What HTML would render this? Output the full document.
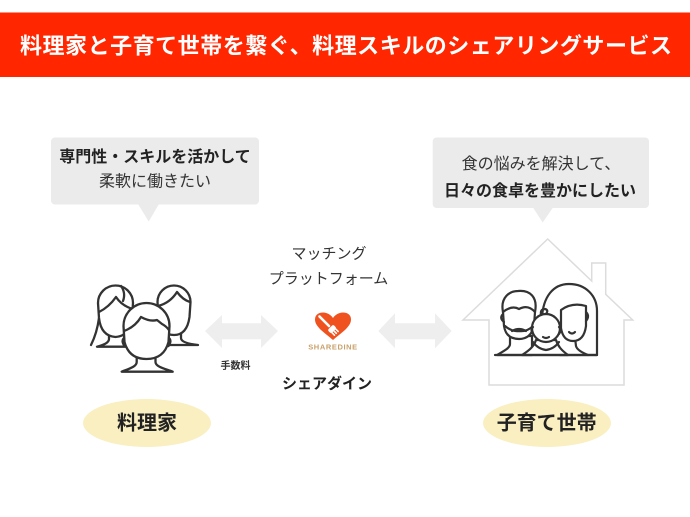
<!DOCTYPE html>
<html>
<head>
<meta charset="utf-8">
<style>
  html,body{margin:0;padding:0;background:#fff;}
  body{width:690px;height:517px;overflow:hidden;}
  svg{display:block;}
  .jp{font-family:"Liberation Sans","Noto Sans CJK JP",sans-serif;}
</style>
</head>
<body>
<svg width="690" height="517" viewBox="0 0 690 517" xmlns="http://www.w3.org/2000/svg">
  <rect x="0" y="0" width="690" height="517" fill="#ffffff"/>

  <!-- Title bar -->
  <rect x="0" y="12.5" width="690" height="64.5" fill="#ff2600"/>
  <text class="jp" x="20" y="53.5" font-size="22" font-weight="bold" fill="#ffffff" textLength="652" lengthAdjust="spacing">料理家と子育て世帯を繋ぐ、料理スキルのシェアリングサービス</text>

  <!-- Left bubble -->
  <rect x="51" y="137.5" width="208" height="67" rx="4" fill="#ebebeb"/>
  <polygon points="138,204 159,204 148.7,221.5" fill="#ebebeb"/>
  <text class="jp" x="155" y="162" font-size="16" font-weight="bold" fill="#222" text-anchor="middle">専門性・スキルを活かして</text>
  <text class="jp" x="155" y="186.5" font-size="16" fill="#333" text-anchor="middle">柔軟に働きたい</text>

  <!-- Right bubble -->
  <rect x="432.7" y="137.5" width="216.3" height="70.5" rx="4" fill="#ebebeb"/>
  <polygon points="533,207.5 553,207.5 542.7,222.5" fill="#ebebeb"/>
  <text class="jp" x="541" y="169" font-size="16" fill="#333" text-anchor="middle">食の悩みを解決して、</text>
  <text class="jp" x="540" y="196" font-size="16" font-weight="bold" fill="#222" text-anchor="middle">日々の食卓を豊かにしたい</text>

  <!-- Center labels -->
  <text class="jp" x="329" y="258.5" font-size="15" fill="#333" text-anchor="middle">マッチング</text>
  <text class="jp" x="328.5" y="283.5" font-size="15" fill="#333" text-anchor="middle">プラットフォーム</text>
  <text class="jp" x="327" y="388.5" font-size="15" font-weight="bold" fill="#222" text-anchor="middle">シェアダイン</text>
  <text class="jp" x="235.5" y="369" font-size="10" font-weight="bold" fill="#333" text-anchor="middle">手数料</text>

  <!-- Arrows -->
  <polygon points="205,331 222,315 222,323.3 261,323.3 261,315 278,331 261,348 261,339.3 222,339.3 222,348" fill="#eeeeee"/>
  <polygon points="378.3,331 395,313.3 395,323.3 435,323.3 435,313.3 451.7,331 435,348.3 435,339.3 395,339.3 395,348.3" fill="#eeeeee"/>

  <!-- Logo -->
  <path d="M333,340 C325,333 315,327 315,319.5 C315,314.5 319,312.5 323,312.5 C327.5,312.5 331,315 333,318 C335,315 338.5,312.5 343,312.5 C347,312.5 351,314.5 351,319.5 C351,327 341,333 333,340 Z" fill="#f0521f"/>
  <line x1="319.5" y1="316.5" x2="329" y2="326" stroke="#fff" stroke-width="2.6" stroke-linecap="round"/>
  <g transform="translate(331,328) rotate(-45)" fill="none" stroke="#fff" stroke-linecap="round">
    <rect x="-4" y="-1" width="8" height="5" rx="2" fill="#fff" stroke="none"/>
    <line x1="-2.6" y1="3" x2="-2.6" y2="7.5" stroke-width="1.6"/>
    <line x1="0" y1="3" x2="0" y2="7.5" stroke-width="1.6"/>
    <line x1="2.6" y1="3" x2="2.6" y2="7.5" stroke-width="1.6"/>
  </g>
  <text x="333" y="349.5" font-family="Liberation Sans, sans-serif" font-size="7.5" font-weight="bold" fill="#c9a06a" text-anchor="middle" letter-spacing="0.6">SHAREDINE</text>

  <!-- Left people icon -->
  <g fill="#fff" stroke="#333" stroke-width="2.3" stroke-linejoin="round" stroke-linecap="round">
    <!-- back left woman -->
    <path d="M99,318 Q97,333 91,345"/>
    <path d="M109,333 L109,339 C109,343 103,345 97,346.7 L135,346.7 L135,333 Z"/>
    <path d="M98,303 A17.5,17.5 0 0 1 133,303 L132,318 Q130,336 115.5,337 Q101,336 99,318 Z"/>
    <path d="M99,312 Q109,307 116,297 Q122,306 133,309" fill="none"/>
    <path d="M121,286 Q126,293 123,301" fill="none"/>
    <!-- back right -->
    <path d="M168,332 L168,338 C168,342 160,344 150,345 L198,345 C189,344 181,342 181,338 L181,332 Z"/>
    <path d="M157.5,302 A16.5,16.5 0 0 1 190.5,302 L189.5,317 Q187,335 174,335 Q161,335 158.5,317 Z"/>
    <path d="M158,306 Q170,303 177,292 Q183,300 190,302" fill="none"/>
    <!-- front person -->
    <path d="M136.7,354 L136.7,362 C136.7,367 128,369 121.7,371.7 L172.7,371.7 C166,369 155.5,367 155.5,362 L155.5,354 Z"/>
    <path d="M123.5,326 A23,23 0 0 1 169.5,326 L168.5,342 Q164,359 146.5,359 Q129,359 124.5,342 Z"/>
    <path d="M124,331 Q135,327 141,317 Q150,322 157,320 L162,324 Q166,326 169,330" fill="none"/>
    <path d="M124,338 Q121,341 124.5,346" fill="none"/>
    <path d="M169,338 Q172,341 168.5,346" fill="none"/>
  </g>

  <!-- House -->
  <path d="M489,385 L489,320 L463,320 L547.7,239 L591.7,281 L591.7,263 L605.7,263 L605.7,294.3 L632.7,320 L624,320 L624,385 Z" fill="#fff" stroke="#dcdcdc" stroke-width="1.5" stroke-linejoin="miter"/>

  <!-- Family -->
  <g fill="#fff" stroke="#333" stroke-width="2.2" stroke-linejoin="round" stroke-linecap="round">
    <!-- mother hair -->
    <path d="M542,318 C543,297 553,284 569,284 C586,284 597,296 597,311 L597,355 L560,355 Z"/>
    <!-- mother neck -->
    <path d="M575,338 L576,346 C577,350 583,353 588,355" fill="none"/>
    <!-- mother face -->
    <path d="M561,310 Q572,302 586,306 L586,326 Q584,341 573,341 Q563,341 561,328 Z"/>
    <path d="M586,312 Q590,316 586,321" fill="none"/>
    <path d="M569,332 Q572,335 575,332" fill="none"/>
    <!-- father body -->
    <path d="M510,336 L510,344 C510,348 504,351 497,355 L532,355 L532,336 Z"/>
    <!-- father head -->
    <path d="M503,312 C500,297 510,291 518,291 C530,290 538,297 535,312 L534,326 Q531,339 519,339 Q506,339 504,326 Z"/>
    <path d="M503,312 Q512,305 519,309 Q528,304 535,312" fill="none"/>
    <path d="M503,314 Q499,318 504,322" fill="none"/>
    <path d="M512,331 Q519,327 526,331" fill="none"/>
    <path d="M505,326 Q512,332 519,331 Q527,332 533,326" fill="none"/>
    <!-- baby -->
    <path d="M536,340 C534,346 530,350 522,355 L568,355 C561,350 558,346 556,340 Z"/>
    <circle cx="546" cy="328" r="14"/>
    <path d="M541,315 Q540,309 545,309 Q549,310 546,314" fill="none"/>
    <path d="M533,327 Q530,330 533,334" fill="none"/>
    <path d="M559,327 Q562,330 559,334" fill="none"/>
    <path d="M543,337 Q546,339 549,337" fill="none"/>
    <path d="M533,342 Q538,349 546,350 Q554,349 559,342" fill="none"/>
    <!-- floor -->
    <line x1="495" y1="355" x2="597" y2="355"/>
  </g>

  <!-- Ellipse labels -->
  <ellipse cx="147" cy="423" rx="64" ry="24" fill="#f9efc1"/>
  <text class="jp" x="147" y="429.5" font-size="20" font-weight="bold" fill="#222" text-anchor="middle">料理家</text>
  <ellipse cx="547" cy="423" rx="64" ry="24" fill="#f9efc1"/>
  <text class="jp" x="546.7" y="429.5" font-size="20" font-weight="bold" fill="#222" text-anchor="middle">子育て世帯</text>
</svg>
</body>
</html>
